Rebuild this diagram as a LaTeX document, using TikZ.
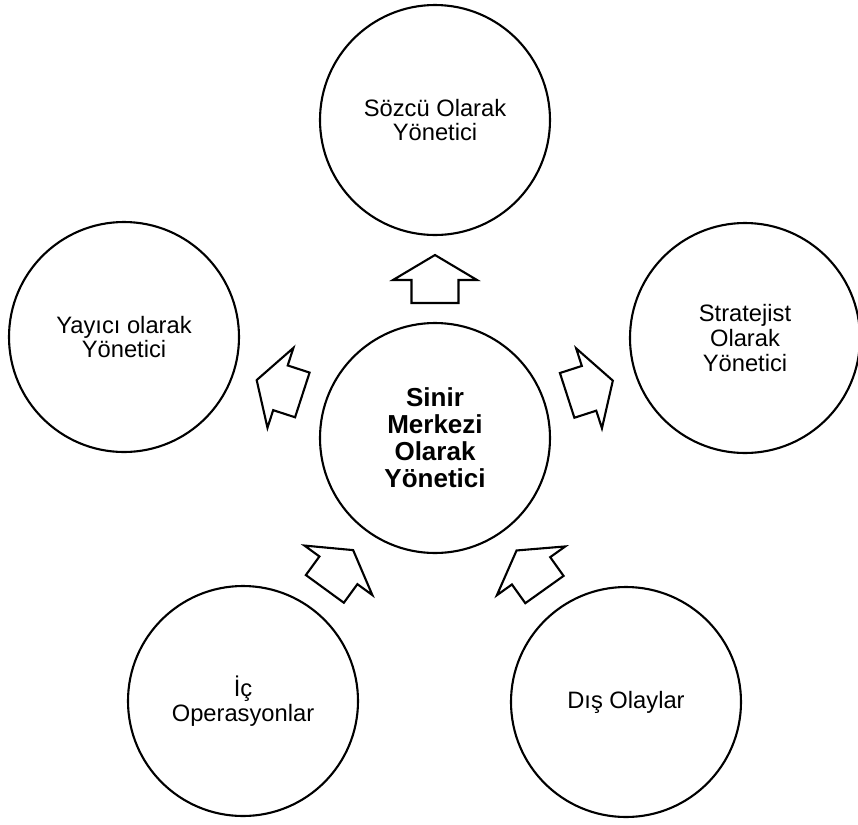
\documentclass[tikz,border=0pt]{standalone}
\usepackage{fontspec}
\setmainfont{Liberation Sans}
\usetikzlibrary{calc}

\begin{document}
\begin{tikzpicture}[
  role/.style={draw, circle, line width=1.2pt, minimum size=4.6cm, inner sep=0pt, align=center, font=\fontsize{13.5}{14}\selectfont},
  hub/.style={role, font=\fontsize{14.8}{15.4}\selectfont\bfseries},
  arrline/.style={draw, line width=1.2pt},
  blockarr/.pic={\draw[arrline] (-0.48,-0.47) -- (-0.02,-0.47) -- (-0.02,-0.84) -- (0.48,0) -- (-0.02,0.84) -- (-0.02,0.47) -- (-0.48,0.47) -- cycle;}]
\useasboundingbox (0,0) rectangle (17.16,-16.5);
\node[hub] (cen) at (8.70,-8.76) {Sinir\\Merkezi\\Olarak\\Yönetici};
\node[role] (top) at (8.70,-2.40) {Sözcü Olarak\\Yönetici};
\node[role] (lft) at (2.48,-6.74) {Yayıcı olarak\\Yönetici};
\node[role] (rgt) at (14.90,-6.76) {Stratejist\\Olarak\\Yönetici};
\node[role] (bl) at (4.86,-14.02) {İç\\Operasyonlar};
\node[role] (br) at (12.52,-14.04) {Dış Olaylar};
% block arrows halfway between the circles
\pic[rotate=90] at ($(cen)!0.5!(top)$) {blockarr};
\pic[rotate=162] at ($(cen)!0.5!(lft)$) {blockarr};
\pic[rotate=17.9] at ($(cen)!0.5!(rgt)$) {blockarr};
\pic[rotate=53.9] at ($(bl)!0.5!(cen)$) {blockarr};
\pic[rotate=125.5] at ($(br)!0.5!(cen)$) {blockarr};
\end{tikzpicture}
\end{document}
